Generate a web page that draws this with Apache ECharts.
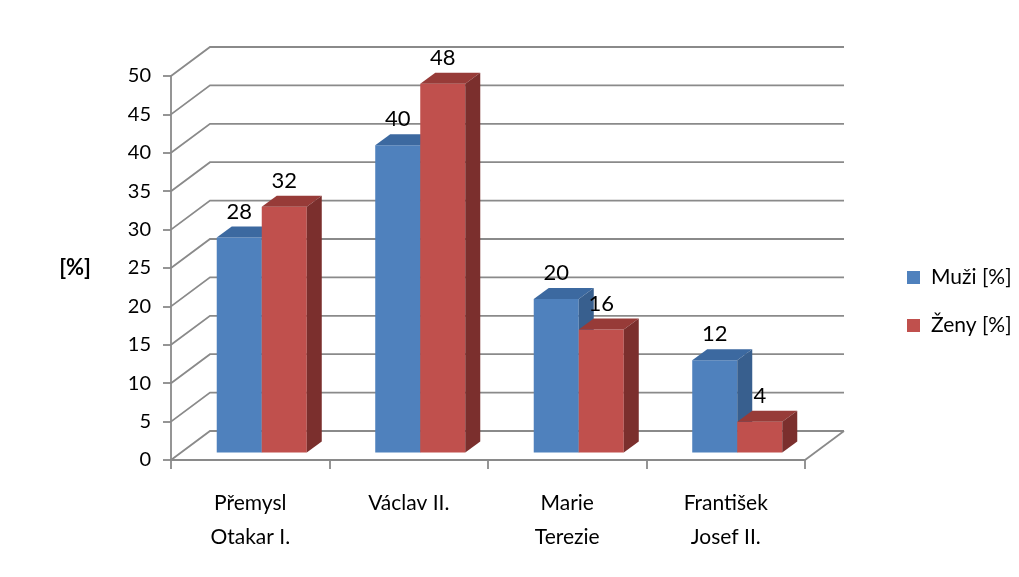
<!DOCTYPE html>
<html>
<head>
<meta charset="utf-8">
<script src="https://cdn.jsdelivr.net/npm/echarts@6/dist/echarts.min.js"></script>
<style>
  html, body { margin: 0; padding: 0; background: #fff; }
  #chart { width: 1019px; height: 577px; }
</style>
</head>
<body>
<div id="chart"></div>
<script>
const categories = ['Přemysl\nOtakar I.', 'Václav II.', 'Marie\nTerezie', 'František\nJosef II.'];
const muzi = [28, 40, 20, 12];
const zeny = [32, 48, 16, 4];
const yTicks = [0, 5, 10, 15, 20, 25, 30, 35, 40, 45, 50];

// perspective offsets
const wallDx = 39, wallDy = -29;   // back wall
const frontDx = 10, frontDy = -7.5; // bar front face
const depthDx = 15, depthDy = -11;  // bar depth
const FONT = 'Lato, "Liberation Sans", sans-serif';

const faceColors = [
  { front: '#4F81BD', top: '#3C69A0', side: '#385F8E' },
  { front: '#C0504D', top: '#973B38', side: '#7B2F2D' }
];

const chart = echarts.init(document.getElementById('chart'));

function wallItem(params, api) {
  const cs = params.coordSys;
  const y = api.coord([0, api.value(0)])[1];
  const x0 = cs.x, x1 = cs.x + cs.width;
  const children = [{
    type: 'polyline',
    shape: { points: [[x0, y], [x0 + wallDx, y + wallDy], [x1 + wallDx, y + wallDy]] },
    style: { stroke: '#8a8a8a', lineWidth: 1.8, fill: null }
  }];
  if (api.value(0) === 0) {
    children.push({
      type: 'line',
      shape: { x1: x1, y1: y, x2: x1 + wallDx, y2: y + wallDy },
      style: { stroke: '#8a8a8a', lineWidth: 1.8 }
    });
  }
  return { type: 'group', children: children };
}

function barItem(si) {
  return function (params, api) {
    const idx = api.value(0);
    const val = api.value(1);
    const top = api.coord([idx, val]);
    const base = api.coord([idx, 0]);
    const band = api.size([1, 0])[0];
    const w = band * 0.284;
    const left = top[0] - w + si * w + 1.5 + frontDx;
    const right = left + w;
    const yt = top[1] + frontDy;
    const yb = base[1] + frontDy;
    const c = faceColors[si];
    return {
      type: 'group',
      children: [
        { type: 'rect', shape: { x: left, y: yt, width: w, height: yb - yt }, style: { fill: c.front } },
        { type: 'polygon', shape: { points: [[left, yt], [right, yt], [right + depthDx, yt + depthDy], [left + depthDx, yt + depthDy]] }, style: { fill: c.top } },
        { type: 'polygon', shape: { points: [[right, yt], [right + depthDx, yt + depthDy], [right + depthDx, yb + depthDy], [right, yb]] }, style: { fill: c.side } },
        { type: 'text', x: left + w / 2, y: yt + depthDy - 15,
          style: { text: String(val), fill: '#000', font: '22px ' + FONT, align: 'center', verticalAlign: 'middle' } }
      ]
    };
  };
}

const option = {
  animation: false,
  textStyle: { fontFamily: FONT },
  grid: { left: 171, right: 214, top: 76, bottom: 117 },
  legend: {
    orient: 'vertical',
    left: 902,
    top: 262,
    itemWidth: 13,
    itemHeight: 13,
    itemGap: 27,
    icon: 'rect',
    textStyle: { fontSize: 21, color: '#000', fontFamily: FONT, padding: [0, 0, 0, 6] },
    data: ['Muži [%]', 'Ženy [%]']
  },
  xAxis: {
    type: 'category',
    data: categories,
    axisLine: { lineStyle: { color: '#8a8a8a', width: 1.8 } },
    axisTick: { show: true, length: 9, lineStyle: { color: '#8a8a8a', width: 1.8 } },
    axisLabel: { fontSize: 21, color: '#000', lineHeight: 34, margin: 26, fontFamily: FONT },
    splitLine: { show: false }
  },
  yAxis: {
    type: 'value',
    min: 0,
    max: 50,
    interval: 5,
    name: '[%]',
    nameLocation: 'middle',
    nameRotate: 0,
    nameGap: 80,
    nameTextStyle: { fontSize: 22, fontWeight: 'bold', color: '#000', fontFamily: FONT },
    axisLine: { show: true, lineStyle: { color: '#8a8a8a', width: 1.8 } },
    axisTick: { show: true, length: 8, lineStyle: { color: '#8a8a8a', width: 1.8 } },
    axisLabel: { fontSize: 20, color: '#000', margin: 20, fontFamily: FONT },
    splitLine: { show: false }
  },
  series: [
    {
      name: 'wall',
      type: 'custom',
      z: 1,
      silent: true,
      renderItem: wallItem,
      data: yTicks.map(v => [v])
    },
    {
      name: 'Muži [%]',
      type: 'custom',
      z: 2,
      itemStyle: { color: faceColors[0].front },
      renderItem: barItem(0),
      data: muzi.map((v, i) => [i, v])
    },
    {
      name: 'Ženy [%]',
      type: 'custom',
      z: 3,
      itemStyle: { color: faceColors[1].front },
      renderItem: barItem(1),
      data: zeny.map((v, i) => [i, v])
    }
  ]
};

chart.setOption(option);
window.addEventListener('resize', function () {
  chart.resize();
});
</script>
</body>
</html>
